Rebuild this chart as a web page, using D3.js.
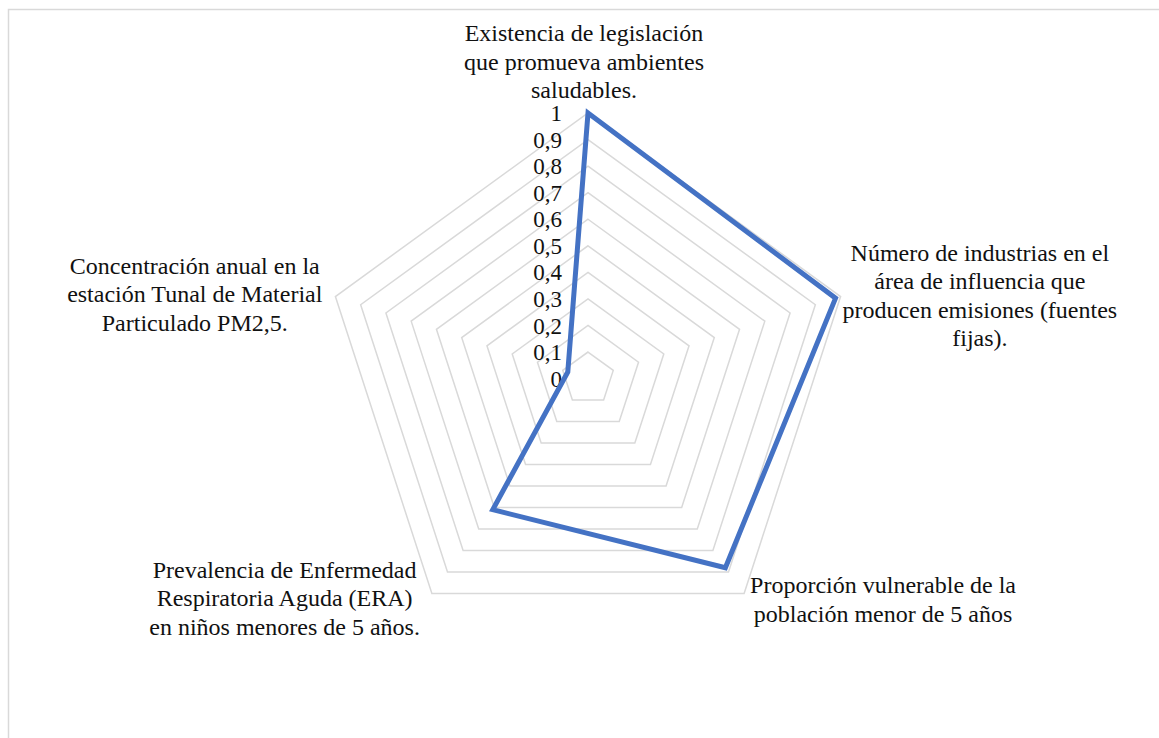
<!DOCTYPE html>
<html>
<head>
<meta http-equiv="Content-Type" content="text/html;charset=utf-8">
<script type="text/javascript" src="https://d3js.org/d3.v7.min.js"></script>
<style>
  body { margin: 0; background: #fff; }
</style>
</head>
<body>
<div id="chart"></div>
<script type="text/javascript">

// categories (one entry per axis, already split into lines as in the picture)
var categories = [
  ["Existencia de legislación", "que promueva ambientes", "saludables."],
  ["Número de industrias en el", "área de influencia que", "producen emisiones (fuentes", "fijas)."],
  ["Proporción vulnerable de la", "población menor de 5 años"],
  ["Prevalencia de Enfermedad", "Respiratoria Aguda (ERA)", "en niños menores de 5 años."],
  ["Concentración anual en la", "estación Tunal de Material", "Particulado PM2,5."]
];

var values = [1, 0.98, 0.88, 0.61, 0.08];

var ticks = [0, 0.1, 0.2, 0.3, 0.4, 0.5, 0.6, 0.7, 0.8, 0.9, 1];

var width = 1159;
var height = 738;

var cx = 588, cy = 378.6, R = 265.6;
var lineH = 28.5;
var serif = "'Liberation Serif', 'Times New Roman', 'DejaVu Serif', serif";

var svg = d3.select("#chart").append("svg")
    .attr("width", width)
    .attr("height", height)
    .attr("font-family", serif);

// chart frame (runs off the bottom/right like the original)
svg.append("rect")
    .attr("x", 8.5).attr("y", 9.5)
    .attr("width", 1152).attr("height", 780)
    .attr("fill", "none")
    .attr("stroke", "#d9d9d9")
    .attr("stroke-width", 1.5);

var g = svg.append("g")
    .attr("transform", "translate(" + cx + "," + cy + ")");

var r = d3.scaleLinear().domain([0, 1]).range([0, R]);
var angle = d3.scaleLinear().domain([0, categories.length]).range([0, 2 * Math.PI]);

var radial = d3.lineRadial()
    .angle(function (d, i) { return angle(i); })
    .radius(function (d) { return r(d); })
    .curve(d3.curveLinearClosed);

// grid rings
g.append("g")
    .selectAll("path")
    .data(ticks.filter(function (t) { return t > 0; }))
    .enter().append("path")
    .attr("d", function (t) { return radial(categories.map(function () { return t; })); })
    .attr("fill", "none")
    .attr("stroke", "#d9d9d9")
    .attr("stroke-width", 1.5);

// value axis labels
var fmt = d3.formatLocale({decimal: ",", thousands: ".", grouping: [3], currency: ["", ""]}).format(".1~f");

g.append("g")
    .selectAll("text")
    .data(ticks)
    .enter().append("text")
    .attr("x", -26)
    .attr("y", function (t) { return -r(t); })
    .attr("dy", "0.35em")
    .attr("text-anchor", "end")
    .style("font-family", serif)
    .style("font-size", "23px")
    .style("fill", "#111")
    .text(function (t) { return fmt(t); });

// data series
g.append("path")
    .attr("d", radial(values))
    .attr("fill", "none")
    .attr("stroke", "#4472C4")
    .attr("stroke-width", 5)
    .attr("stroke-linejoin", "miter");

// category labels, placed next to each outer vertex
// gap: horizontal space to vertex, shift: vertical shift of the line block
var place = [
  {gap: 0, shift: 0},
  {gap: 2, shift: 7},
  {gap: 6, shift: 14},
  {gap: 12, shift: 13},
  {gap: 13, shift: 5.5}
];

categories.forEach(function (lines, i) {
  var a = angle(i);
  var vx = r(1) * Math.sin(a);
  var vy = -r(1) * Math.cos(a);
  var t = g.append("text")
      .attr("text-anchor", "middle")
      .style("font-family", serif)
      .style("font-size", "24px")
      .style("fill", "#111");
  var spans = t.selectAll("tspan")
      .data(lines)
      .enter().append("tspan")
      .text(function (d) { return d; });
  var w = d3.max(spans.nodes(), function (n) { return n.getComputedTextLength(); });
  var x, y0;
  if (i === 0) {
    x = vx - 4;
    y0 = vy - 15 - (lines.length - 1) * lineH;
  } else {
    var side = Math.sin(a) > 0 ? 1 : -1;
    x = vx + side * (place[i].gap + w / 2);
    y0 = vy + place[i].shift - (lines.length - 1) * lineH / 2;
  }
  spans.attr("x", x)
      .attr("y", function (d, j) { return y0 + j * lineH; });
});

</script>
</body>
</html>
